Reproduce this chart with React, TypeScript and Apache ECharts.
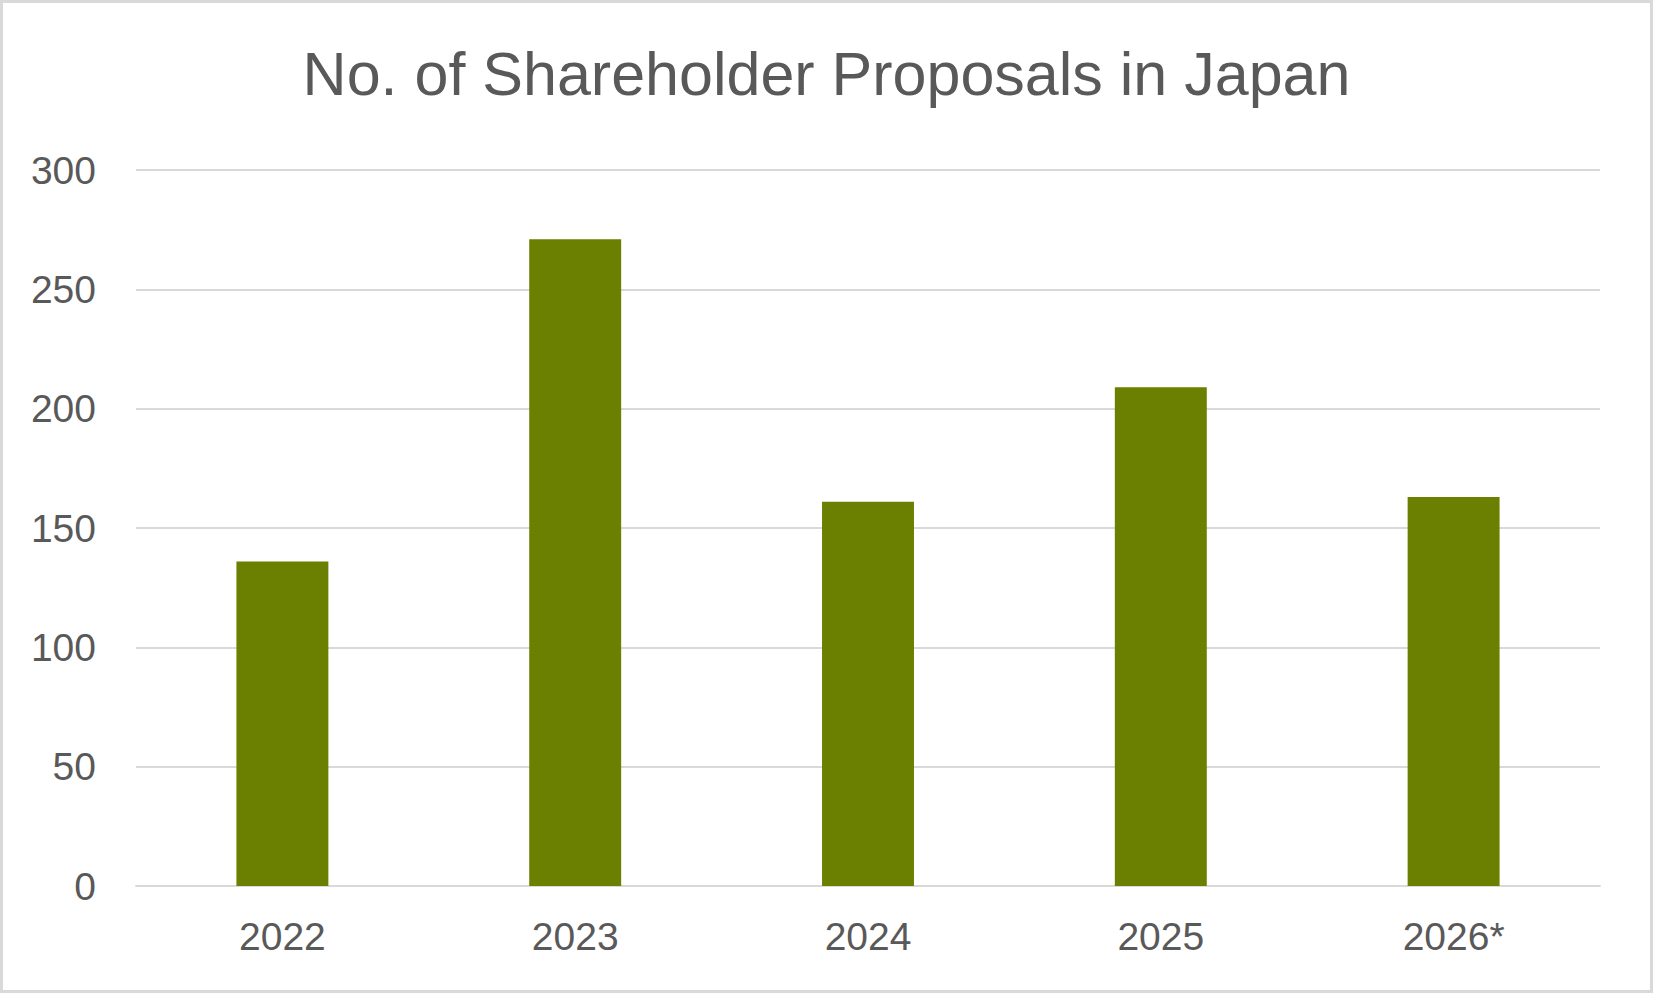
import React, { useEffect, useRef } from "react";
import * as echarts from "echarts";

const TITLE = "No. of Shareholder Proposals in Japan";
const categories = ["2022", "2023", "2024", "2025", "2026*"];
const proposals = [136, 271, 161, 209, 163];
const yTicks = { min: 0, max: 300, interval: 50 };

const FONT = "'Liberation Sans', Arial, sans-serif";
const TEXT = "#595959";
const GRID = "#d9d9d9";
const BAR = "#6b7f00";

export default function App() {
  const ref = useRef<HTMLDivElement>(null);
  useEffect(() => {
    if (!ref.current) return;
    const chart = echarts.init(ref.current, null, { renderer: "svg" });
    chart.setOption({
      animation: false,
      backgroundColor: "#ffffff",
      textStyle: { fontFamily: FONT },
      title: {
        text: TITLE,
        left: "center",
        top: 43,
        padding: 0,
        textStyle: { fontSize: 61, fontWeight: "normal", color: TEXT, fontFamily: FONT },
      },
      graphic: [
        {
          type: "rect",
          shape: { x: 1.5, y: 1.5, width: 1650, height: 990 },
          style: { fill: "none", stroke: GRID, lineWidth: 3 },
          silent: true,
        },
      ],
      grid: { left: 136, right: 53, top: 170, bottom: 107 },
      xAxis: {
        type: "category",
        data: categories,
        axisLine: { show: true, lineStyle: { color: GRID, width: 2 } },
        axisTick: { show: false },
        axisLabel: { fontSize: 39, color: TEXT, margin: 31, fontFamily: FONT },
      },
      yAxis: {
        type: "value",
        min: yTicks.min,
        max: yTicks.max,
        interval: yTicks.interval,
        axisLine: { show: false },
        axisTick: { show: false },
        axisLabel: { fontSize: 39, color: TEXT, margin: 40, fontFamily: FONT },
        splitLine: { lineStyle: { color: GRID, width: 2 } },
      },
      series: [
        {
          type: "bar",
          data: proposals,
          barWidth: "31.4%",
          itemStyle: { color: BAR },
        },
      ],
    });
    return () => chart.dispose();
  }, []);
  return (
    <div
      ref={ref}
      style={{ position: "absolute", left: 0, top: 0, width: 1653, height: 993 }}
    />
  );
}
